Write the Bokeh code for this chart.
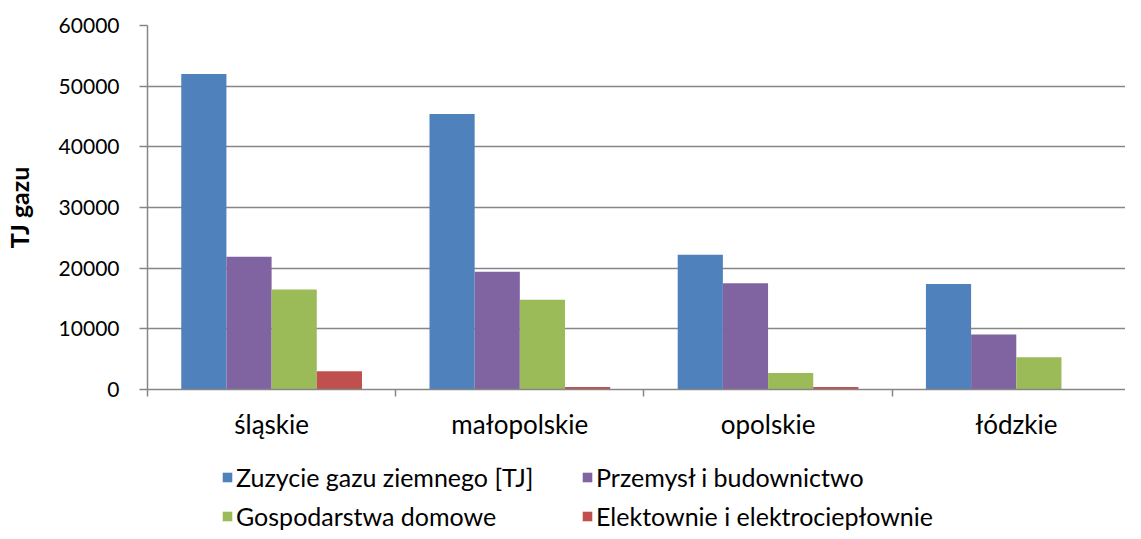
import numpy as np
from bokeh.plotting import figure
from bokeh.layouts import column
from bokeh.models import (ColumnDataSource, Range1d, FixedTicker, Legend, LegendItem,
                          Label, NumeralTickFormatter)
from bokeh.transform import dodge
from bokeh.embed import file_html
from bokeh.resources import INLINE

# ---------------- data ----------------
categories = ["śląskie", "małopolskie", "opolskie", "łódzkie"]
series_names = ["Zuzycie gazu ziemnego [TJ]", "Przemysł i budownictwo",
                "Gospodarstwa domowe", "Elektownie i elektrociepłownie"]
zuzycie = [52000, 45400, 22200, 17400]
przemysl = [21900, 19400, 17500, 9050]
gospodarstwa = [16500, 14800, 2700, 5300]
elektrownie = [3000, 400, 400, 0]
y_ticks = [0, 10000, 20000, 30000, 40000, 50000, 60000]
title_text = "Zużycie gazu ziemnego"
y_label = "TJ gazu"

# ---------------- style ----------------
colors = ["#4F81BD", "#8064A2", "#9BBB59", "#C0504D"]
FONT = "Lato"
GRID = "#868686"
W = 1125
H1, H2 = 445, 86
LEFT, TOP, BOTTOM = 140, 25, 56
GROUP_PX = 250.0
frame_w = W - LEFT
bar_w = 0.182
offsets = [-1.5 * bar_w, -0.5 * bar_w, 0.5 * bar_w, 1.5 * bar_w]
keys = ["s0", "s1", "s2", "s3"]

src = ColumnDataSource(dict(
    pos=np.arange(len(categories)) + 0.5,
    s0=zuzycie, s1=przemysl, s2=gospodarstwa, s3=elektrownie,
))

p = figure(width=W, height=H1, output_backend="svg", toolbar_location=None,
           x_range=Range1d(0, frame_w / GROUP_PX), y_range=Range1d(0, 60000),
           min_border_left=LEFT, min_border_right=0, min_border_top=TOP,
           min_border_bottom=BOTTOM)
p.outline_line_color = None
p.background_fill_color = "white"
p.border_fill_color = "white"

for i, key in enumerate(keys):
    p.vbar(x=dodge("pos", offsets[i], range=p.x_range), top=key, width=bar_w,
           source=src, fill_color=colors[i], line_color=None)

# x axis: boundary ticks as minor ticks, labels at group centres
xa = p.xaxis[0]
xa.ticker = FixedTicker(ticks=[i + 0.5 for i in range(len(categories))],
                        minor_ticks=list(range(len(categories) + 1)))
xa.major_label_overrides = {i + 0.5: c for i, c in enumerate(categories)}
xa.major_tick_out = 0
xa.major_tick_in = 0
xa.minor_tick_out = 7
xa.minor_tick_in = 0
xa.minor_tick_line_color = GRID
xa.minor_tick_line_width = 1.5
xa.axis_line_color = GRID
xa.axis_line_width = 1.5
xa.major_label_standoff = 11
xa.major_label_text_font = FONT
xa.major_label_text_font_size = "26px"
xa.major_label_text_color = "black"
p.xgrid.visible = False

ya = p.yaxis[0]
ya.ticker = FixedTicker(ticks=y_ticks)
ya.formatter = NumeralTickFormatter(format="0")
ya.major_tick_out = 8
ya.major_tick_in = 0
ya.minor_tick_out = 0
ya.minor_tick_in = 0
ya.major_tick_line_color = GRID
ya.major_tick_line_width = 1.5
ya.axis_line_color = GRID
ya.axis_line_width = 1.5
ya.major_label_standoff = 20
ya.major_label_text_font = FONT
ya.major_label_text_font_size = "21px"
ya.major_label_text_color = "black"
ya.axis_label = y_label
ya.axis_label_text_font = FONT
ya.axis_label_text_font_style = "bold"
ya.axis_label_text_font_size = "25px"
ya.axis_label_text_color = "black"
ya.axis_label_standoff = 22
p.ygrid.grid_line_color = GRID
p.ygrid.grid_line_width = 1.5

# clipped title (only descenders visible at top edge, as in reference)
p.add_layout(Label(x=1.72, y=62470, text=title_text, text_align="center",
                   text_baseline="bottom", text_font=FONT,
                   text_font_style="bold", text_font_size="44px",
                   text_color="black"))

# ---------------- legend strip ----------------
# (its frame is aligned with the main frame by the column layout)
lg = figure(width=W, height=H2, output_backend="svg", toolbar_location=None,
            x_range=Range1d(0, frame_w / GROUP_PX), y_range=Range1d(1e6, 2e6),
            min_border_left=LEFT, min_border_right=0, min_border_top=0,
            min_border_bottom=0)
lg.axis.visible = False
lg.grid.visible = False
lg.outline_line_color = None
lg.background_fill_color = "white"
lg.border_fill_color = "white"
# same series, lying outside the strip's visible range: only the legend swatches show
leg_r = [lg.vbar(x=dodge("pos", offsets[i], range=lg.x_range), top=key, width=bar_w,
                 source=src, fill_color=colors[i], line_color=None)
         for i, key in enumerate(keys)]

def make_legend(idx, xloc):
    leg = Legend(items=[LegendItem(label=series_names[j], renderers=[leg_r[j]], index=0)
                        for j in idx],
                 location=(xloc, 0), orientation="vertical")
    leg.border_line_color = None
    leg.background_fill_alpha = 0
    leg.padding = 0
    leg.margin = 0
    leg.glyph_width = 12
    leg.glyph_height = 12
    leg.label_standoff = 3
    leg.spacing = 9
    leg.label_height = 28
    leg.label_text_font = FONT
    leg.label_text_font_size = "25px"
    leg.label_text_color = "black"
    return leg

lg.add_layout(make_legend([0, 2], 74))
lg.add_layout(make_legend([1, 3], 434))

layout = column(p, lg, spacing=0)
open("out.html", "w").write(file_html(layout, INLINE))
